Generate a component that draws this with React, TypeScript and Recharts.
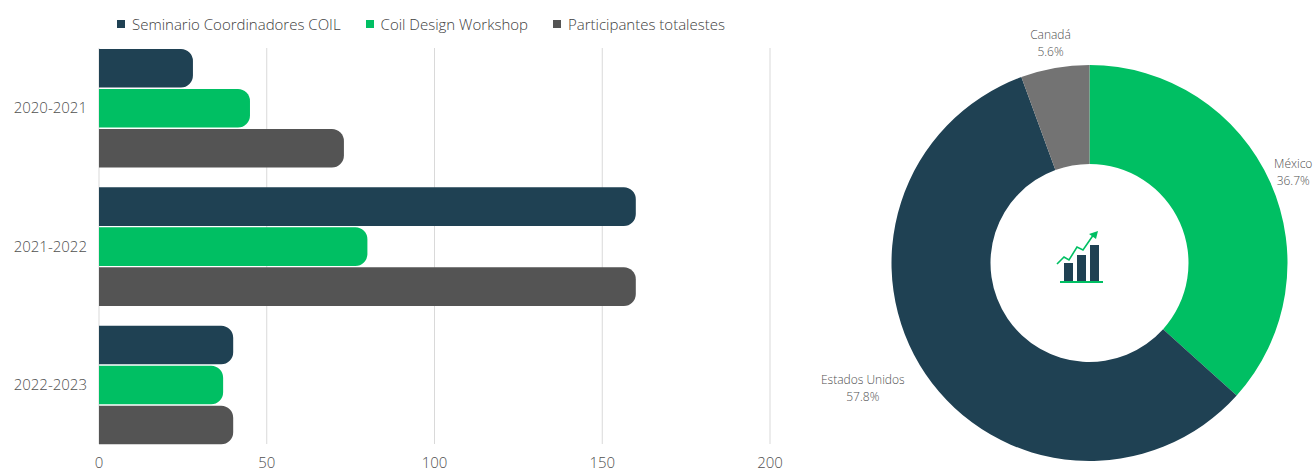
import { BarChart, Bar, XAxis, YAxis, CartesianGrid, Legend, PieChart, Pie, Cell } from 'recharts';

const FONT = '"Open Sans", sans-serif';
const TEXT = '#505050';

const years = ['2020-2021', '2021-2022', '2022-2023'];
const seminario = [28, 160, 40];
const workshop = [45, 80, 37];
const totales = [73, 160, 40];
const xTicks = [0, 50, 100, 150, 200];

const countries = ['México', 'Estados Unidos', 'Canadá'];
const shares = [36.7, 57.8, 5.6];
const pieColors = ['#00bf63', '#1f4153', '#737373'];

const barData = years.map((year, i) => ({
  year,
  seminario: seminario[i],
  workshop: workshop[i],
  totales: totales[i],
}));
const pieData = countries.map((name, i) => ({ name, value: shares[i] }));

const seriesInfo = [
  { key: 'seminario', name: 'Seminario Coordinadores COIL', color: '#1f4153' },
  { key: 'workshop', name: 'Coil Design Workshop', color: '#00bf63' },
  { key: 'totales', name: 'Participantes totalestes', color: '#545454' },
];

function LegendRow() {
  return (
    <div style={{ display: 'flex', gap: 25, fontFamily: FONT, fontWeight: 300, fontSize: 15, color: '#404040', whiteSpace: 'nowrap' }}>
      {seriesInfo.map((s) => (
        <span key={s.key} style={{ display: 'flex', alignItems: 'center', gap: 7 }}>
          <span style={{ width: 8, height: 8, background: s.color, display: 'inline-block' }} />
          {s.name}
        </span>
      ))}
    </div>
  );
}

function PieLabel(props: any) {
  const { cx, cy, midAngle, name, value } = props;
  const rad = (midAngle * Math.PI) / 180;
  const r = 223;
  let x = cx + r * Math.cos(rad);
  const y = cy - r * Math.sin(rad);
  // long name on the left side sits outside the ring
  if (name === 'Estados Unidos') x -= 42;
  return (
    <text x={x} y={y} textAnchor="middle" fontFamily={FONT} fontWeight={300} fontSize={12} fill={TEXT}>
      <tspan x={x} dy={-4}>{name}</tspan>
      <tspan x={x} dy={17}>{value}%</tspan>
    </text>
  );
}

function CenterIcon() {
  return (
    <svg width={60} height={60} viewBox="1050 228 60 60" style={{ position: 'absolute', left: 1050, top: 228 }}>
      <rect x={1064} y={263} width={9} height={18} fill="#1f4153" />
      <rect x={1077} y={255} width={9} height={26} fill="#1f4153" />
      <rect x={1090} y={245} width={9} height={36} fill="#1f4153" />
      <rect x={1060} y={281} width={43} height={2} fill="#00bf63" />
      <polyline points="1057,264 1064,257 1069,260 1077,247 1083,250 1094,234" fill="none" stroke="#00bf63" strokeWidth={1.6} />
      <polygon points="1098,231 1089,234 1096,239" fill="#00bf63" />
    </svg>
  );
}

export default function App() {
  return (
    <div style={{ position: 'absolute', left: 0, top: 0, width: 1314, height: 468, background: '#fff', overflow: 'hidden' }}>
      <div style={{ position: 'absolute', left: 0, top: 0 }}>
        <BarChart
          width={800}
          height={468}
          layout="vertical"
          data={barData}
          margin={{ top: 39, right: 30, bottom: 0, left: 0 }}
          barSize={38.6}
          barGap={1.4}
        >
          <CartesianGrid horizontal={false} stroke="#d9d9d9" y={48} height={396} />
          <XAxis
            type="number"
            domain={[0, 200]}
            ticks={xTicks}
            height={14}
            axisLine={false}
            tickLine={false}
            tickMargin={0}
            tick={{ fill: TEXT, fontSize: 15, fontFamily: FONT, fontWeight: 300, dy: -3 }}
          />
          <YAxis
            type="category"
            dataKey="year"
            width={99}
            axisLine={false}
            tickLine={false}
            tickMargin={6}
            tick={{ fill: TEXT, fontSize: 15, fontFamily: FONT, fontWeight: 300 }}
          />
          <Legend content={<LegendRow />} verticalAlign="middle" wrapperStyle={{ left: 117, top: 14, width: 'auto' }} />
          {seriesInfo.map((s) => (
            <Bar key={s.key} dataKey={s.key} name={s.name} fill={s.color} radius={[0, 12, 12, 0]} isAnimationActive={false} />
          ))}
        </BarChart>
      </div>
      <div style={{ position: 'absolute', left: 800, top: 0 }}>
        <PieChart width={514} height={468} margin={{ top: 0, right: 0, bottom: 0, left: 0 }}>
          <Pie
            data={pieData}
            dataKey="value"
            nameKey="name"
            cx={289.5}
            cy={263}
            innerRadius={99}
            outerRadius={198}
            startAngle={90}
            endAngle={-270}
            stroke="none"
            label={PieLabel}
            labelLine={false}
            isAnimationActive={false}
          >
            {pieData.map((d, i) => (
              <Cell key={d.name} fill={pieColors[i]} />
            ))}
          </Pie>
        </PieChart>
      </div>
      <CenterIcon />
    </div>
  );
}
